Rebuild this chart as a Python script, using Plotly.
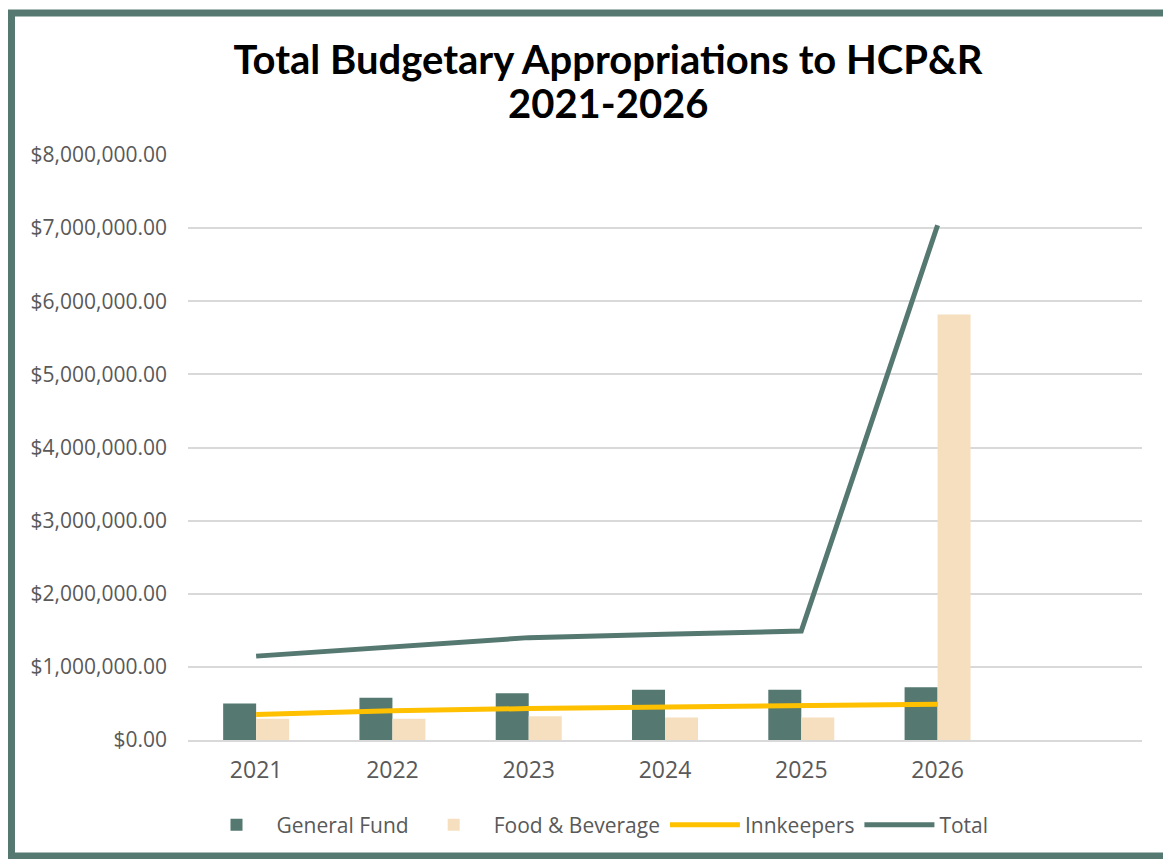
import plotly.graph_objects as go

years = ["2021", "2022", "2023", "2024", "2025", "2026"]
general_fund = [500000, 578000, 640000, 687000, 687000, 723000]
food_beverage = [290000, 290000, 326000, 308000, 308000, 5820000]
innkeepers = [350000, 400000, 430000, 450000, 480000, 490000]
total = [1147000, 1272000, 1400000, 1445000, 1489000, 7040000]
title_line1 = "Total Budgetary Appropriations to HCP&R"
title_line2 = "2021-2026"

GREEN = "#557870"
BEIGE = "#F5DFBF"
YELLOW = "#FFC000"

fig = go.Figure()
fig.add_trace(go.Bar(x=years, y=general_fund, name="General Fund",
                     marker=dict(color=GREEN, line=dict(width=0))))
fig.add_trace(go.Bar(x=years, y=food_beverage, name="Food & Beverage",
                     marker=dict(color=BEIGE, line=dict(width=0))))
fig.add_trace(go.Scatter(x=years, y=innkeepers, name="Innkeepers", mode="lines",
                         line=dict(color=YELLOW, width=5)))
fig.add_trace(go.Scatter(x=years, y=total, name="Total", mode="lines",
                         line=dict(color=GREEN, width=5)))

# page body has an 8px margin; lay out in screen pixels and shift
OFF = 8
SW, SH = 1171, 859
W, H = SW - OFF, SH - OFF
L, R, T, B = 188 - OFF, SW - 1142, 155 - OFF, SH - 740
pw, ph = W - L - R, H - T - B


def px_x(p):
    return (p - OFF - L) / pw


def px_y(p):
    return (H - B - (p - OFF)) / ph


title_font = dict(family="Lato", size=40, color="black", weight=900)

fig.update_layout(
    width=W, height=H,
    margin=dict(l=L, r=R, t=T, b=B),
    paper_bgcolor="white", plot_bgcolor="white",
    barmode="group", bargap=0.516, bargroupgap=0,
    font=dict(family="Open Sans", color="#595959"),
    title=dict(text="<b>" + title_line1 + "</b>",
               x=(608 - OFF) / W, xanchor="center",
               y=1 - (60 - OFF) / H, yanchor="middle",
               font=title_font),
    xaxis=dict(type="category", range=[-0.5, 6.5], showgrid=False,
               showline=True, linecolor="#D9D9D9", linewidth=2,
               tickfont=dict(size=23, color="#595959"), ticks="",
               ticklabelstandoff=8),
    yaxis=dict(range=[0, 8000000], dtick=1000000, tickformat="$,.2f",
               showgrid=True, gridcolor="#D9D9D9", gridwidth=2,
               zeroline=False, showline=False, ticks="",
               tickfont=dict(size=21, color="#595959"),
               ticklabelstandoff=20),
    legend=dict(orientation="h", x=(595 - OFF) / W, xanchor="center", xref="container",
                y=1 - (825 - OFF) / H, yanchor="middle", yref="container",
                font=dict(size=21, color="#595959"), itemwidth=70,
                traceorder="normal"),
    shapes=[dict(type="rect", xref="paper", yref="paper",
                 x0=px_x(11.5), x1=px_x(1166.5), y0=px_y(856), y1=px_y(13),
                 line=dict(color=GREEN, width=7), layer="below")],
    annotations=[dict(text="<b>" + title_line2 + "</b>", xref="paper", yref="paper",
                      x=px_x(608), y=px_y(103), xanchor="center", yanchor="middle",
                      showarrow=False, font=title_font)],
)

fig.write_html("out.html")
